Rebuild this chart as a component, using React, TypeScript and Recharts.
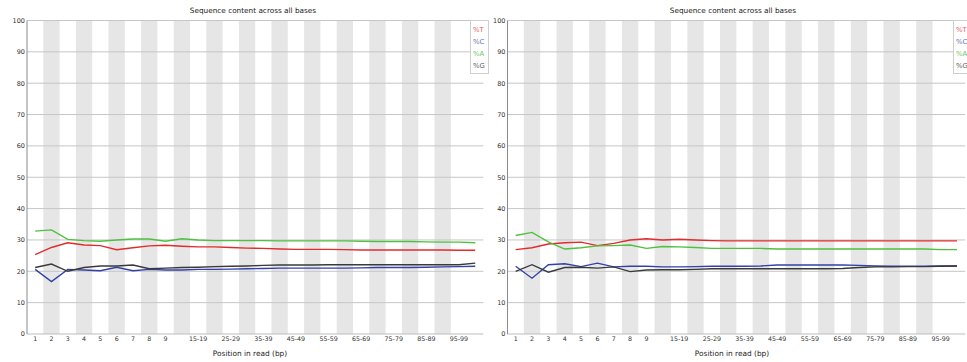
import React from "react";
import { LineChart, Line, XAxis, YAxis, ReferenceArea, ReferenceLine } from "recharts";

const categories = [
  "1", "2", "3", "4", "5", "6", "7", "8", "9",
  "10-14", "15-19", "20-24", "25-29", "30-34", "35-39", "40-44", "45-49",
  "50-54", "55-59", "60-64", "65-69", "70-74", "75-79", "80-84", "85-89",
  "90-94", "95-99", "100-101",
];
const shownTickLabels = [
  "1", "2", "3", "4", "5", "6", "7", "8", "9",
  "15-19", "25-29", "35-39", "45-49", "55-59", "65-69", "75-79", "85-89", "95-99",
];
const yTicks = [0, 10, 20, 30, 40, 50, 60, 70, 80, 90, 100];
const gridValues = [10, 20, 30, 40, 50, 60, 70, 80, 90, 100];

// Left panel
const leftT = [25.3, 27.6, 29.1, 28.4, 28.2, 26.9, 27.5, 28.1, 28.3, 28.0, 27.8, 27.8, 27.6, 27.4, 27.3, 27.1, 27.0, 27.0, 27.0, 26.9, 26.8, 26.8, 26.8, 26.8, 26.8, 26.8, 26.7, 26.7];
const leftC = [20.6, 16.7, 20.6, 20.4, 20.2, 21.3, 20.2, 20.6, 20.4, 20.4, 20.6, 20.6, 20.7, 20.8, 20.9, 21.0, 21.0, 21.0, 21.0, 21.0, 21.1, 21.2, 21.2, 21.2, 21.3, 21.4, 21.5, 21.6];
const leftA = [32.8, 33.2, 30.2, 29.8, 29.6, 30.0, 30.3, 30.3, 29.6, 30.4, 30.0, 29.8, 29.8, 29.8, 29.8, 29.7, 29.7, 29.7, 29.7, 29.7, 29.6, 29.5, 29.5, 29.5, 29.4, 29.3, 29.3, 29.1];
const leftG = [21.2, 22.3, 20.0, 21.2, 21.7, 21.7, 22.0, 20.8, 21.0, 21.2, 21.3, 21.5, 21.6, 21.7, 21.9, 22.0, 22.0, 22.0, 22.1, 22.1, 22.1, 22.1, 22.1, 22.1, 22.1, 22.1, 22.1, 22.6];

// Right panel
const rightT = [26.9, 27.5, 28.7, 29.1, 29.3, 28.2, 28.9, 30.0, 30.4, 30.0, 30.2, 30.0, 29.8, 29.7, 29.7, 29.7, 29.7, 29.7, 29.7, 29.7, 29.7, 29.7, 29.7, 29.7, 29.7, 29.7, 29.7, 29.7];
const rightC = [21.6, 17.8, 22.1, 22.4, 21.5, 22.6, 21.4, 21.6, 21.6, 21.4, 21.4, 21.5, 21.6, 21.6, 21.6, 21.7, 22.0, 22.0, 22.0, 22.0, 22.0, 21.9, 21.7, 21.6, 21.6, 21.6, 21.7, 21.7];
const rightA = [31.4, 32.4, 29.4, 27.1, 27.5, 28.1, 28.2, 28.4, 27.3, 27.9, 27.8, 27.6, 27.3, 27.3, 27.3, 27.3, 27.1, 27.1, 27.1, 27.1, 27.1, 27.1, 27.1, 27.1, 27.1, 27.1, 26.9, 26.9];
const rightG = [20.0, 22.1, 19.7, 21.2, 21.3, 21.0, 21.4, 19.9, 20.4, 20.5, 20.5, 20.6, 20.8, 20.8, 20.8, 20.8, 20.8, 20.8, 20.8, 20.8, 20.9, 21.2, 21.4, 21.4, 21.5, 21.5, 21.6, 21.7];

const seriesNames = ["%T", "%C", "%A", "%G"];
const seriesColors = ["#e32b2b", "#3242a8", "#4fc03f", "#3a3a3a"];
const legendColors = ["#e86060", "#6874c0", "#6cc86c", "#606060"];

const FONT = "'DejaVu Sans', sans-serif";

function buildRows(t: number[], c: number[], a: number[], g: number[]) {
  return categories.map((pos, i) => ({ pos, T: t[i], C: c[i], A: a[i], G: g[i] }));
}

const LegendBox = ({ left }: { left: number }) => (
  <div
    style={{
      position: "absolute",
      left,
      top: 20,
      border: "1px solid #cfcfcf",
      background: "#fff",
      padding: "3px 3px 1px 2px",
      fontFamily: FONT,
      fontSize: 6.8,
      lineHeight: "12px",
      zIndex: 5,
    }}
  >
    {seriesNames.map((n, i) => (
      <div key={n} style={{ color: legendColors[i] }}>{n}</div>
    ))}
  </div>
);

type PanelProps = {
  left: number;
  rows: any[];
  axisWidth: number;
  marginRight: number;
  legendLeft: number;
  titleCenter: number;
  xLabelCenter: number;
};

const W = 484;
const H = 362;

function Panel({ left, rows, axisWidth, marginRight, legendLeft, titleCenter, xLabelCenter }: PanelProps) {
  const keys = ["T", "C", "A", "G"];
  return (
    <div style={{ position: "absolute", left, top: 0, width: W, height: H }}>
      <div
        style={{
          position: "absolute",
          left: titleCenter - 100,
          width: 200,
          top: 6,
          textAlign: "center",
          fontFamily: FONT,
          fontSize: 7.3,
          color: "#222",
          whiteSpace: "nowrap",
        }}
      >
        Sequence content across all bases
      </div>
      <div
        style={{
          position: "absolute",
          left: xLabelCenter - 100,
          width: 200,
          top: 348.5,
          textAlign: "center",
          fontFamily: FONT,
          fontSize: 7.4,
          color: "#222",
          whiteSpace: "nowrap",
        }}
      >
        Position in read (bp)
      </div>
      <div style={{ position: "absolute", left: 0, top: 0 }}>
        <LineChart
          width={W}
          height={H}
          data={rows}
          margin={{ top: 20.5, right: marginRight, bottom: 0, left: 0 }}
        >
          {categories
            .filter((_, i) => i % 2 === 1)
            .map((c) => (
              <ReferenceArea
                key={"s" + c}
                x1={c}
                x2={c}
                fill="#e6e6e6"
                fillOpacity={1}
                stroke="none"
              />
            ))}
          {gridValues.map((v) => (
            <ReferenceLine key={"g" + v} y={v} stroke="#c6c6c6" strokeWidth={1} />
          ))}
          <XAxis
            dataKey="pos"
            scale="band"
            interval={0}
            height={28}
            tickSize={0}
            tickMargin={3}
            tickLine={false}
            axisLine={{ stroke: "#bdbdbd" }}
            tick={{ fontSize: 6.3, fontFamily: FONT, fill: "#333" }}
            tickFormatter={(v: string) => (shownTickLabels.includes(v) ? v : "")}
          />
          <YAxis
            domain={[0, 100]}
            ticks={yTicks}
            width={axisWidth}
            tickSize={0}
            tickMargin={2}
            tickLine={false}
            axisLine={{ stroke: "#8a8a8a" }}
            tick={{ fontSize: 6.5, fontFamily: FONT, fill: "#333" }}
            interval={0}
          />
          {keys.map((k, i) => (
            <Line
              key={k}
              dataKey={k}
              name={seriesNames[i]}
              stroke={seriesColors[i]}
              strokeWidth={1.4}
              dot={false}
              type="linear"
              isAnimationActive={false}
            />
          ))}
        </LineChart>
      </div>
      <LegendBox left={legendLeft} />
    </div>
  );
}

export default function App() {
  const leftRows = buildRows(leftT, leftC, leftA, leftG);
  const rightRows = buildRows(rightT, rightC, rightA, rightG);
  return (
    <div style={{ position: "absolute", left: 0, top: 0, width: 967, height: 362, background: "#fff", overflow: "hidden" }}>
      <Panel
        left={0}
        rows={leftRows}
        axisWidth={27}
        marginRight={0.6}
        legendLeft={470}
        titleCenter={253}
        xLabelCenter={250}
      />
      <Panel
        left={483}
        rows={rightRows}
        axisWidth={24.5}
        marginRight={1.8}
        legendLeft={470}
        titleCenter={250}
        xLabelCenter={249}
      />
    </div>
  );
}
